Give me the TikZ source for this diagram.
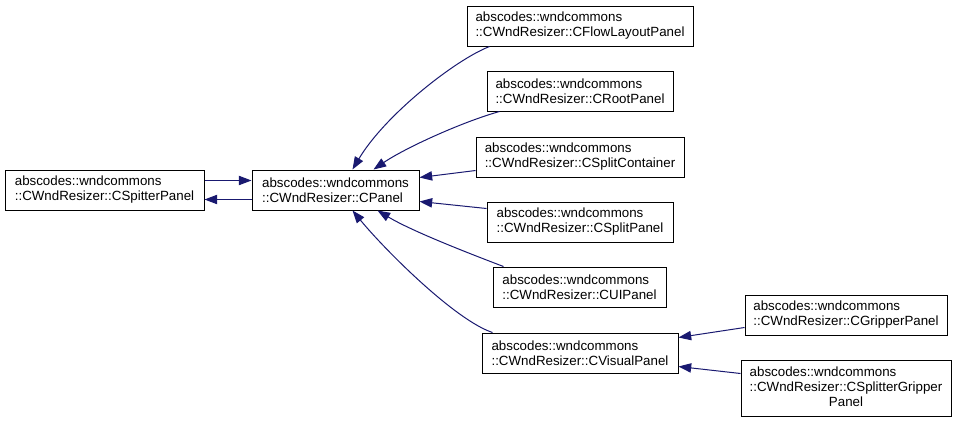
\documentclass[tikz,border=0pt]{standalone}
\usepackage{fontspec}
\setmainfont{Liberation Sans}
\usetikzlibrary{arrows.meta,calc}
\definecolor{edgeblue}{HTML}{191970}
\newcommand\classbox[6]{%
  \node[cbox, minimum width={(#4-#2)*0.75pt}, minimum height={(#5-#3)*0.75pt}] (#1) at ({(#2+#4)/2},{(#3+#5)/2}) {#6};}
\begin{document}
\begin{tikzpicture}[x=0.75pt,y=-0.75pt,
  cbox/.style={draw=black, line width=0.75pt, inner sep=0pt, align=left, font=\fontsize{10}{11.25}\selectfont},
  inh/.style={draw=edgeblue, line width=0.75pt, -{Triangle[length=9.5pt,width=7pt,fill=edgeblue]}}]
\useasboundingbox (0,0) rectangle (957,422);
\classbox{spitter}{5}{170}{204}{210}{abscodes::wndcommons\\::CWndResizer::CSpitterPanel}
\classbox{cpanel}{252}{170}{419}{210}{abscodes::wndcommons\\::CWndResizer::CPanel}
\classbox{flow}{467}{6}{693}{46}{abscodes::wndcommons\\::CWndResizer::CFlowLayoutPanel}
\classbox{root}{487}{71}{673}{111}{abscodes::wndcommons\\::CWndResizer::CRootPanel}
\classbox{scont}{476}{137}{684}{177}{abscodes::wndcommons\\::CWndResizer::CSplitContainer}
\classbox{spanel}{487}{202}{673}{242}{abscodes::wndcommons\\::CWndResizer::CSplitPanel}
\classbox{ui}{493}{267}{666}{307}{abscodes::wndcommons\\::CWndResizer::CUIPanel}
\classbox{visual}{482}{333}{678}{373}{abscodes::wndcommons\\::CWndResizer::CVisualPanel}
\classbox{gripper}{745}{295}{947}{335}{abscodes::wndcommons\\::CWndResizer::CGripperPanel}
\classbox{sgripper}{741}{360}{951}{416}{\begin{tabular}{@{}l@{}}abscodes::wndcommons\\::CWndResizer::CSplitterGripper\\\multicolumn{1}{@{}c@{}}{Panel}\end{tabular}}
% edges
\draw[inh] ($(spitter.north east)+(0,11)$) -- ($(cpanel.north west)+(0,11)$);
\draw[inh] ($(cpanel.south west)+(0,-11)$) -- ($(spitter.south east)+(0,-11)$);
\draw[inh] ($(flow.south west)+(23,0)$) .. controls (455,60) and (385,115) .. ($(cpanel.north west)+(101,0)$);
\draw[inh] ($(root.south west)+(13,0)$) .. controls (462,122) and (405,148) .. ($(cpanel.north west)+(122,0)$);
\draw[inh] ($(scont.north west)+(0,34)$) -- ($(cpanel.north east)+(0,8)$);
\draw[inh] ($(spanel.north west)+(0,7)$) -- ($(cpanel.south east)+(0,-9)$);
\draw[inh] ($(ui.north west)+(11,0)$) .. controls (460,250) and (410,230) .. ($(cpanel.south west)+(126,0)$);
\draw[inh] ($(visual.north west)+(11,0)$) .. controls (455,320) and (385,250) .. ($(cpanel.south west)+(101,0)$);
\draw[inh] ($(gripper.north west)+(0,33)$) -- ($(visual.north east)+(0,5)$);
\draw[inh] ($(sgripper.north west)+(0,14)$) -- ($(visual.south east)+(0,-7)$);
\end{tikzpicture}
\end{document}
